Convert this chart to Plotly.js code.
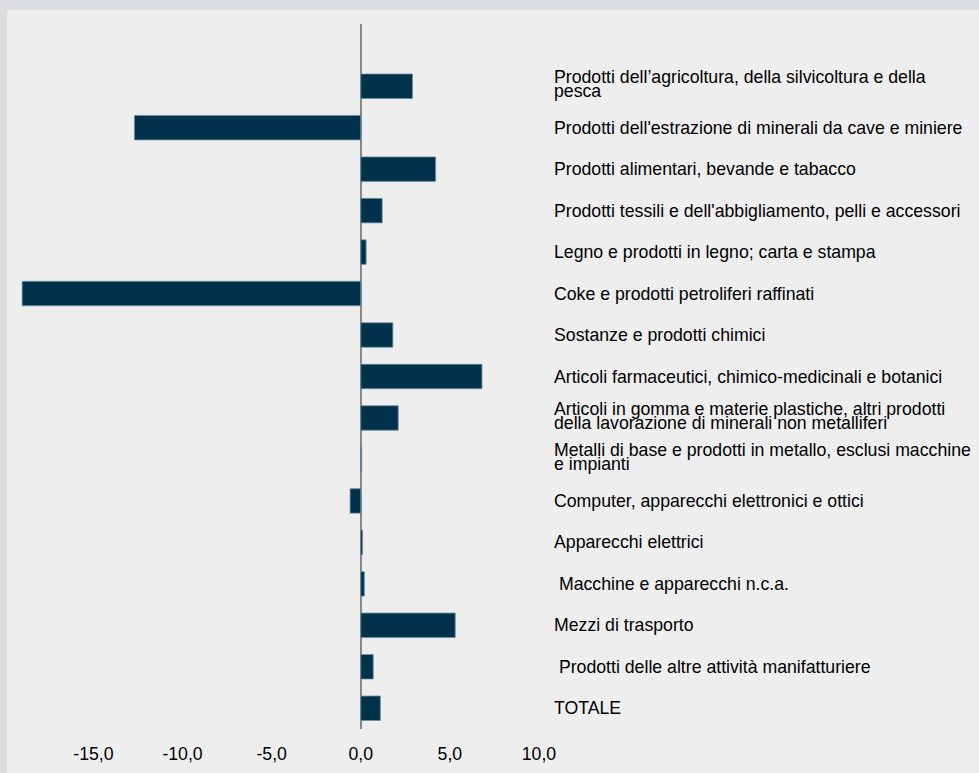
<!DOCTYPE html>
<html>
<head>
<meta charset="utf-8">
<script src="https://cdn.plot.ly/plotly-3.0.1.min.js"></script>
<style>
  html, body { margin: 0; padding: 0; background: #dcdde0; }
  #chart { position: absolute; left: 7px; top: 10px; width: 972px; height: 763px; }
</style>
</head>
<body>
<div id="chart"></div>
<script>
// Categories, top to bottom ("\n" marks a line break in the label)
const categories = [
  "Prodotti dell\u2019agricoltura, della silvicoltura e della\npesca",
  "Prodotti dell'estrazione di minerali da cave e miniere",
  "Prodotti alimentari, bevande e tabacco",
  "Prodotti tessili e dell'abbigliamento, pelli e accessori",
  "Legno e prodotti in legno; carta e stampa",
  "Coke e prodotti petroliferi raffinati",
  "Sostanze e prodotti chimici",
  "Articoli farmaceutici, chimico-medicinali e botanici",
  "Articoli in gomma e materie plastiche, altri prodotti\ndella lavorazione di minerali non metalliferi",
  "Metalli di base e prodotti in metallo, esclusi macchine\ne impianti",
  "Computer, apparecchi elettronici e ottici",
  "Apparecchi elettrici",
  "\u00a0Macchine e apparecchi n.c.a.",
  "Mezzi di trasporto",
  "\u00a0Prodotti delle altre attivit\u00e0 manifatturiere",
  "TOTALE"
];

const values = [2.9, -12.7, 4.2, 1.2, 0.3, -19.0, 1.8, 6.8, 2.1, 0.05, -0.6, 0.1, 0.2, 5.3, 0.7, 1.1];

const xTickValues = [-15, -10, -5, 0, 5, 10];
const xTickText = xTickValues.map(function (v) { return v.toFixed(1).replace(".", ","); });

const FONT = "Liberation Sans, Arial, sans-serif";
const FSIZE = 17.7;

const annotations = [];
categories.forEach(function (cat) {
  const lines = cat.split("\n");
  if (lines.length === 1) {
    annotations.push({ text: lines[0], y: cat, yshift: 0 });
  } else {
    annotations.push({ text: lines[0], y: cat, yshift: 9 });
    annotations.push({ text: lines[1], y: cat, yshift: -5 });
  }
});
annotations.forEach(function (a) {
  a.xref = "paper"; a.yref = "y"; a.x = 1; a.xshift = 14;
  a.xanchor = "left"; a.yanchor = "middle"; a.showarrow = false;
  a.borderpad = 0; a.align = "left";
  a.font = { family: FONT, size: FSIZE, color: "#000000" };
});

const trace = {
  type: "bar",
  orientation: "h",
  x: values,
  y: categories,
  width: 0.59,
  marker: { color: "#00324b", line: { color: "#6f8ea1", width: 0.8 } },
  hoverinfo: "skip"
};

const layout = {
  width: 972,
  height: 763,
  margin: { l: 8, r: 440, t: 14, b: 44, pad: 0 },
  paper_bgcolor: "#eeeeee",
  plot_bgcolor: "#eeeeee",
  showlegend: false,
  xaxis: {
    range: [-19.4, 10],
    tickvals: xTickValues,
    ticktext: xTickText,
    showgrid: false,
    zeroline: true,
    zerolinecolor: "#888888",
    zerolinewidth: 2,
    showline: false,
    ticks: "outside",
    ticklen: 9,
    tickcolor: "rgba(0,0,0,0)",
    tickfont: { family: FONT, size: FSIZE, color: "#000000" },
    fixedrange: true
  },
  yaxis: {
    type: "category",
    categoryorder: "array",
    categoryarray: categories,
    range: [15.5, -1.5],
    showticklabels: false,
    showgrid: false,
    zeroline: false,
    showline: false,
    ticks: "",
    fixedrange: true
  },
  annotations: annotations
};

Plotly.newPlot("chart", [trace], layout, { displayModeBar: false, staticPlot: true });
</script>
</body>
</html>
